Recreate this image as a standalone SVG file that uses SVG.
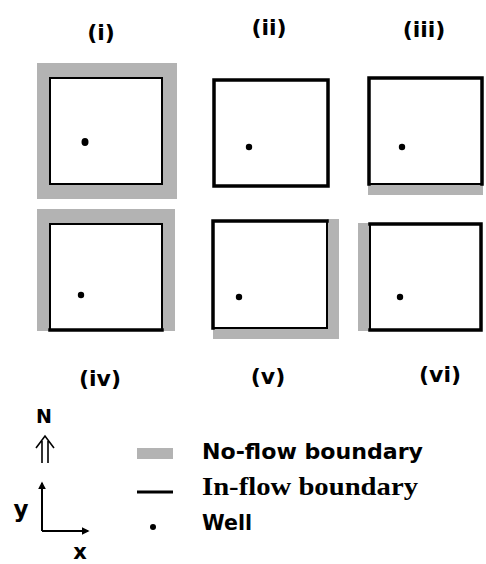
<svg xmlns="http://www.w3.org/2000/svg" width="486" height="564" viewBox="0 0 486 564">
<style>
.g{fill:#b3b3b3}
.box{fill:#fff;stroke:#000;stroke-width:2}
.in{stroke:#000;stroke-width:3.5;fill:none;stroke-linecap:square}
.dot{fill:#000}
.lbl{font-family:"DejaVu Sans",Verdana,sans-serif;font-weight:bold;font-size:22px;text-anchor:middle;fill:#000}
.leg{font-family:"DejaVu Sans",Verdana,sans-serif;font-weight:bold;font-size:21px;fill:#000}
.ser{font-family:"Liberation Serif","Times New Roman",serif;font-weight:bold;font-size:25px;fill:#000}
.ax{stroke:#000;stroke-width:2;fill:none}
.na{stroke:#000;stroke-width:1.6;fill:none}
</style>
<defs>
<marker id="ah" viewBox="0 0 10 10" refX="8" refY="5" markerWidth="4" markerHeight="4" orient="auto">
<path d="M0,0 L10,5 L0,10 Z" fill="#000"/>
</marker>
</defs>

<g id="panel-i">
<rect class="g" x="37" y="63" width="140" height="136"/>
<rect class="box" x="50" y="78" width="112" height="106"/>
<ellipse class="dot" cx="85" cy="142" rx="3.5" ry="4"/>
<text class="lbl" x="101" y="40">(i)</text>
</g>

<g id="panel-ii">
<rect class="box" x="214" y="80" width="114" height="106"/>
<rect class="in" x="214" y="80" width="114" height="106"/>
<circle class="dot" cx="249" cy="147" r="3.2"/>
<text class="lbl" x="269" y="35">(ii)</text>
</g>

<g id="panel-iii">
<rect class="g" x="368" y="184" width="115" height="11"/>
<rect class="box" x="369" y="78" width="113" height="106"/>
<path class="in" d="M369,184 V78 H482 V184"/>
<circle class="dot" cx="402" cy="147" r="3.2"/>
<text class="lbl" x="424" y="37">(iii)</text>
</g>

<g id="panel-iv">
<rect class="g" x="37" y="209" width="138" height="122"/>
<rect class="box" x="50" y="224" width="112" height="106"/>
<path class="in" d="M50,330 H162"/>
<circle class="dot" cx="81" cy="295" r="3.2"/>
<text class="lbl" x="100" y="386">(iv)</text>
</g>

<g id="panel-v">
<rect class="g" x="327" y="219" width="12" height="120"/>
<rect class="g" x="213" y="328" width="126" height="11"/>
<rect class="box" x="213" y="221" width="114" height="107"/>
<path class="in" d="M213,328 V221 H327"/>
<circle class="dot" cx="239" cy="297" r="3.2"/>
<text class="lbl" x="268" y="384">(v)</text>
</g>

<g id="panel-vi">
<rect class="g" x="358" y="223" width="12" height="108"/>
<rect class="box" x="370" y="224" width="111" height="106"/>
<path class="in" d="M370,224 H481 V330 H370"/>
<circle class="dot" cx="400" cy="297" r="3.2"/>
<text class="lbl" x="440" y="382">(vi)</text>
</g>

<g id="compass">
<text class="leg" x="44" y="423" text-anchor="middle" style="font-size:19px">N</text>
<path class="na" d="M42,441 V463 M48,441 V463 M36,448 L45,436 L54,448"/>
</g>

<g id="connectors">
<path class="ax" d="M42,531 V483" marker-end="url(#ah)"/>
<path class="ax" d="M42,531 H88" marker-end="url(#ah)"/>
</g>

<g id="axis-labels">
<text class="leg" x="21" y="517" text-anchor="middle" style="font-size:23px">y</text>
<text class="leg" x="80" y="559" text-anchor="middle" style="font-size:21px">x</text>
</g>

<g id="legend">
<rect class="g" x="137" y="448" width="36" height="11"/>
<text class="leg" x="202" y="459" textLength="221" lengthAdjust="spacingAndGlyphs">No-flow boundary</text>
<line x1="137" y1="492" x2="173" y2="492" stroke="#000" stroke-width="3"/>
<text class="ser" x="202" y="495" textLength="216" lengthAdjust="spacingAndGlyphs">In-flow boundary</text>
<circle class="dot" cx="153" cy="527" r="3"/>
<text class="leg" x="202" y="530" textLength="50" lengthAdjust="spacingAndGlyphs">Well</text>
</g>
</svg>
